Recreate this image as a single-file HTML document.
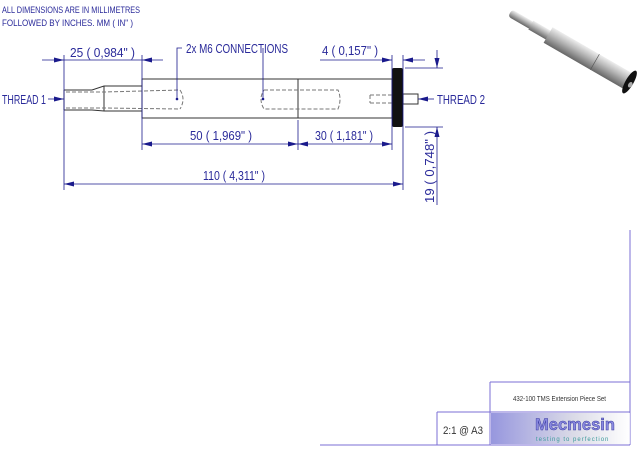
<!DOCTYPE html>
<html><head><style>body{margin:0;background:#fff}svg{display:block}</style></head><body>
<svg width="640" height="460" viewBox="0 0 640 460" xmlns="http://www.w3.org/2000/svg" font-family="Liberation Sans, sans-serif">
<defs>
<marker id="a" markerWidth="10" markerHeight="6" refX="10" refY="3" orient="auto" markerUnits="userSpaceOnUse"><path d="M0,0.5 L10,3 L0,5.5z" fill="#1a1a8c"/></marker>
<linearGradient id="g" x1="0" y1="0" x2="0" y2="1"><stop offset="0" stop-color="#eee"/><stop offset=".4" stop-color="#bbb"/><stop offset="1" stop-color="#666"/></linearGradient>
<linearGradient id="lg" x1="0" y1="0" x2="1" y2="0"><stop offset="0" stop-color="#6a6ad0"/><stop offset=".6" stop-color="#ccd" /><stop offset="1" stop-color="#fff"/></linearGradient>
</defs>
<g fill="#2a2a9a" font-size="9">
<text x="2" y="13" textLength="138" lengthAdjust="spacingAndGlyphs">ALL DIMENSIONS ARE IN MILLIMETRES</text>
<text x="2" y="26" textLength="131" lengthAdjust="spacingAndGlyphs">FOLLOWED BY INCHES.    MM ( IN" )</text>
</g>
<!-- part -->
<g stroke="#333" fill="none" stroke-width="1">
<path d="M64,90 L92,90 L104,86 L142,86 M64,110 L92,110 L104,111 L142,111 M64,90 L64,110"/>
<line x1="104" y1="86" x2="104" y2="111"/>
<rect x="142" y="79" width="250" height="39"/>
<line x1="298" y1="79" x2="298" y2="118"/>
<rect x="403" y="94" width="15" height="10"/>
</g>
<rect x="392" y="68" width="11" height="59" rx="2" fill="#111"/>
<g stroke="#777" stroke-dasharray="4,2" fill="none" stroke-width="1">
<path d="M66,92 L104,92 L180,90 M66,108 L104,108 L180,109"/>
<path d="M180,90 Q186,99 180,109"/>
<path d="M264,90 L338,90 Q342,99 338,109 L264,109 Q258,99 264,90"/>
<path d="M370,95 L392,95 M370,103 L392,103 M370,95 L370,103"/>
</g>
<circle cx="177" cy="99" r="1.3" fill="#1a1a8c"/>
<circle cx="263" cy="99" r="1.3" fill="#1a1a8c"/>
<!-- dims -->
<g stroke="#1a1a8c" stroke-width="0.8" fill="none">
<line x1="64" y1="55" x2="64" y2="190"/>
<line x1="142" y1="55" x2="142" y2="150"/>
<line x1="298" y1="120" x2="298" y2="150"/>
<line x1="392" y1="55" x2="392" y2="150"/>
<line x1="403" y1="55" x2="403" y2="190"/>
<line x1="42" y1="60" x2="64" y2="60" marker-end="url(#a)"/>
<line x1="163" y1="60" x2="142" y2="60" marker-end="url(#a)"/>
<line x1="64" y1="60" x2="142" y2="60"/>
<line x1="220" y1="144" x2="142" y2="144" marker-end="url(#a)"/>
<line x1="220" y1="144" x2="298" y2="144" marker-end="url(#a)"/>
<line x1="345" y1="144" x2="298" y2="144" marker-end="url(#a)"/>
<line x1="345" y1="144" x2="392" y2="144" marker-end="url(#a)"/>
<line x1="230" y1="184" x2="64" y2="184" marker-end="url(#a)"/>
<line x1="230" y1="184" x2="403" y2="184" marker-end="url(#a)"/>
<line x1="320" y1="60" x2="392" y2="60" marker-end="url(#a)"/>
<line x1="425" y1="60" x2="403" y2="60" marker-end="url(#a)"/>
<line x1="405" y1="68" x2="443" y2="68"/>
<line x1="405" y1="127" x2="443" y2="127"/>
<line x1="437" y1="50" x2="437" y2="68" marker-end="url(#a)"/>
<line x1="437" y1="205" x2="437" y2="127" marker-end="url(#a)"/>
<path d="M263,99 L263,48 M177,99 L177,48 L182,48"/>
<line x1="48" y1="99" x2="64" y2="99" marker-end="url(#a)"/>
<line x1="434" y1="99" x2="418" y2="99" marker-end="url(#a)"/>
</g>
<g fill="#2a2a9a" font-size="13" lengthAdjust="spacingAndGlyphs">
<text x="70" y="57" textLength="65" lengthAdjust="spacingAndGlyphs">25 ( 0,984" )</text>
<text x="186" y="53" textLength="102" lengthAdjust="spacingAndGlyphs">2x M6 CONNECTIONS</text>
<text x="322" y="55" textLength="56" lengthAdjust="spacingAndGlyphs">4 ( 0,157" )</text>
<text x="190" y="140" textLength="62" lengthAdjust="spacingAndGlyphs">50 ( 1,969" )</text>
<text x="315" y="140" textLength="58" lengthAdjust="spacingAndGlyphs">30 ( 1,181" )</text>
<text x="203" y="180" textLength="62" lengthAdjust="spacingAndGlyphs">110 ( 4,311" )</text>
<text x="2" y="104" textLength="44" lengthAdjust="spacingAndGlyphs">THREAD 1</text>
<text x="437" y="104" textLength="48" lengthAdjust="spacingAndGlyphs">THREAD 2</text>
<text transform="translate(434,203) rotate(-90)" textLength="72" lengthAdjust="spacingAndGlyphs">19 ( 0,748" )</text>
</g>
<!-- iso -->
<g transform="translate(510,13) rotate(30)">
<rect x="0" y="-4" width="26" height="8" rx="3" fill="url(#g)"/>
<rect x="24" y="-5" width="22" height="10" fill="url(#g)"/>
<rect x="44" y="-9" width="92" height="18" fill="url(#g)"/>
<line x1="98" y1="-9" x2="98" y2="9" stroke="#555" stroke-width=".6"/>
<ellipse cx="138" cy="0" rx="4" ry="13" fill="#111"/>
<ellipse cx="140" cy="2" rx="2" ry="3" fill="#aaa"/>
</g>
<!-- title block -->
<g stroke="#7b6fd6" stroke-width="1" fill="none">
<line x1="630" y1="230" x2="630" y2="445"/>
<line x1="490" y1="382" x2="630" y2="382"/>
<line x1="437" y1="412" x2="630" y2="412"/>
<line x1="320" y1="445" x2="630" y2="445"/>
<line x1="490" y1="382" x2="490" y2="445"/>
<line x1="437" y1="412" x2="437" y2="445"/>
</g>
<rect x="491" y="413" width="139" height="31" fill="url(#lg)" opacity=".7"/>
<text x="513" y="401" font-size="7" fill="#333" textLength="93" lengthAdjust="spacingAndGlyphs">432-100 TMS Extension Piece Set</text>
<text x="443" y="434" font-size="11" fill="#333" textLength="40" lengthAdjust="spacingAndGlyphs">2:1 @ A3</text>
<text x="535" y="430" font-size="17" font-weight="bold" fill="#8a8ae0" stroke="#3a3aa0" stroke-width=".5" textLength="80" lengthAdjust="spacingAndGlyphs">Mecmesin</text>
<text x="536" y="441" font-size="6" fill="#3a9a9a" letter-spacing="1">testing to perfection</text>
</svg>
</body></html>
